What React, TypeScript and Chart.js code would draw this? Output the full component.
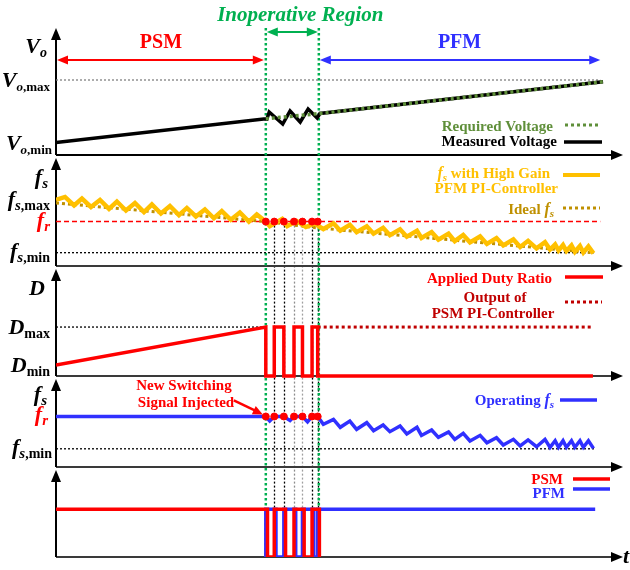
import React, { useEffect, useRef } from 'react';
import { Chart, registerables } from 'chart.js';

Chart.register(...registerables);

// ---------------- time axis (arbitrary units) ----------------
const T_MIN = 0;
const T_MAX = 100;
const inoperativeRegion = [37.2, 46.6];
const switchTimes = [37.2, 38.7, 40.4, 42.2, 43.7, 45.4, 46.4];
const switchLineShades = ['#000000', '#000000', '#8c8c8c', '#a0a0a0', '#000000', '#000000'];
const refLineEnd = 96.5;
const fsMinLineEnd = 95.5;

// ---------------- panel 1 : output voltage ----------------
const voMax = 6.0;
const voMin = 1.0;
const measuredT = [0, 37.2, 37.4, 37.8, 40.2, 41.5, 43.3, 44.7, 46.3, 46.8, 97.0];
const measuredV = [1.0, 2.9, 2.88, 3.44, 2.48, 3.52, 2.64, 3.68, 2.96, 3.32, 5.86];
const requiredT = [37.2, 46.8, 97.0];
const requiredV = [2.9, 3.32, 5.86];

// ---------------- panel 2 : fs with high gain PFM PI ----------------
const fsMax = 5.85;
const fr2 = 4.0;
const fsMin2 = 1.2;
const highGainT = [
  0, 1.6, 3.2, 4.6, 6.2, 7.8, 9.4, 10.8, 12.4, 14.0, 15.6, 17.0, 18.6, 20.2, 21.8, 23.2, 24.8, 26.4,
  28.0, 29.4, 31.0, 32.6, 34.2, 35.6, 37.2, 37.9, 40.1, 41.0, 42.7, 44.3, 46.1, 46.5, 47.4, 49.2,
  50.4, 52.1, 53.3, 55.1, 56.3, 58.0, 59.2, 61.0, 62.2, 64.0, 64.8, 66.6, 67.8, 69.6, 70.7, 72.2,
  73.4, 75.2, 76.4, 78.1, 79.3, 81.1, 82.3, 83.7, 85.2, 86.7, 87.6, 88.5, 89.1, 89.9, 90.5, 91.4,
  92.0, 92.9, 93.5, 94.4, 95.3,
];
const highGainV = [
  5.95, 6.22, 5.45, 6.08, 5.32, 5.95, 5.14, 5.81, 5.0, 5.68, 4.86, 5.54, 4.73, 5.41, 4.59, 5.23, 4.46, 5.09,
  4.3, 4.95, 4.16, 4.82, 4.0, 4.64, 4.0, 3.6, 4.23, 3.6, 4.05, 3.51, 3.87, 3.6, 3.33, 3.85,
  3.18, 3.71, 3.05, 3.58, 2.91, 3.44, 2.77, 3.31, 2.64, 3.17, 2.52, 3.05, 2.38, 2.91, 2.24, 2.79,
  2.13, 2.66, 1.99, 2.52, 1.86, 2.39, 1.72, 2.27, 1.59, 2.14, 1.48, 1.94, 1.4, 1.89, 1.35, 1.85,
  1.28, 1.8, 1.22, 1.76, 1.14,
];
const idealT = [0, 37.2, 46.6, 95.3];
const idealV = [5.68, 4.0, 3.42, 1.2];

// ---------------- panel 3 : duty ratio ----------------
const dMax = 4.45;
const dMin = 1.0;
const dutyEnd = 95.2;

// ---------------- panel 4 : operating fs ----------------
const fr4 = 5.55;
const fsMin4 = 2.0;
const operatingT = [
  0, 37.2, 37.9, 38.7, 40.4, 41.5, 42.2, 43.7, 44.6, 45.4, 46.4, 47.4, 49.2, 50.4, 52.1, 53.3, 55.1,
  56.3, 58.0, 59.2, 61.0, 62.2, 64.0, 64.8, 66.6, 67.8, 69.6, 70.7, 72.2, 73.4, 75.2, 76.4, 78.1,
  79.3, 81.1, 82.3, 83.7, 85.2, 86.7, 87.6, 88.5, 89.1, 89.9, 90.5, 91.4, 92.0, 92.9, 93.5, 94.4, 95.3,
];
const operatingV = [
  5.55, 5.55, 5.05, 5.55, 5.55, 5.1, 5.55, 5.55, 4.95, 5.55, 5.55, 4.69, 5.24, 4.36, 5.05, 4.14, 4.87,
  3.99, 4.62, 3.88, 4.51, 3.63, 4.36, 3.47, 4.07, 3.26, 3.85, 3.04, 3.7, 2.86, 3.48, 2.67, 3.22,
  2.42, 3.04, 2.31, 2.97, 2.23, 3.04, 2.16, 2.89, 2.16, 2.89, 2.16, 2.89, 2.16, 2.89, 2.16, 2.89, 2.05,
];

// ---------------- panel 5 : mode signals ----------------
const modeHigh = 5.3;
const modeEnd = 95.6;
const fallingEdgeLag = 0.3;

// ---------------- layout (not data) ----------------
const panelWeights = [125, 111, 110, 91, 90];
const PANEL_SPAN = 10;
const panelIds = ['p1', 'p2', 'p3', 'p4', 'p5'];

const SERIF = '"Liberation Serif", "Times New Roman", serif';
const F = (style: string, size: number) => `${style} ${size}px ${SERIF}`;

const RED = '#ff0000';
const DARKRED = '#c00000';
const BLUE = '#3030ff';
const GOLD = '#ffc000';
const DARKGOLD = '#bf9000';
const GREEN = '#00b050';
const OLIVE = '#5f8f3a';

const xy = (ts: number[], vs: number[]) => ts.map((t, i) => ({ x: t, y: vs[i] }));

function panelRange(k: number) {
  const sum = (a: number[]) => a.reduce((s, v) => s + v, 0);
  const w = panelWeights[k];
  const above = sum(panelWeights.slice(0, k));
  const below = sum(panelWeights.slice(k + 1));
  return { min: (-PANEL_SPAN * below) / w, max: PANEL_SPAN + (PANEL_SPAN * above) / w };
}

// builds a piecewise-constant signal from the switching instants
function wave(levelOf: (interval: number) => number, lag = 0) {
  const pts: { x: number; y: number }[] = [];
  for (let k = 0; k < switchTimes.length; k++) {
    const before = levelOf(k - 1);
    const after = levelOf(k);
    const t = switchTimes[k] + (after < before ? lag : 0);
    pts.push({ x: t, y: before });
    pts.push({ x: t, y: after });
  }
  return pts;
}
const psmActive = (i: number) => i < 0 || (i < switchTimes.length - 1 && i % 2 === 1);

const dutyPts = [
  { x: T_MIN, y: dMin },
  ...wave((i) => (i < 0 ? dMax : psmActive(i) ? dMax : 0)),
  { x: dutyEnd, y: 0 },
];
const psmModePts = [{ x: T_MIN, y: modeHigh }, ...wave((i) => (psmActive(i) ? modeHigh : 0), fallingEdgeLag)];
const pfmModePts = [
  ...wave((i) => (i < 0 ? 0 : psmActive(i) ? 0 : modeHigh), fallingEdgeLag),
  { x: modeEnd, y: modeHigh },
];

type Part = { text: string; font: string; color: string; dy?: number };
function drawRich(ctx: CanvasRenderingContext2D, parts: Part[], x: number, y: number, align: string) {
  let total = 0;
  for (const p of parts) {
    ctx.font = p.font;
    total += ctx.measureText(p.text).width;
  }
  let cx = align === 'right' ? x - total : align === 'center' ? x - total / 2 : x;
  ctx.textAlign = 'left';
  ctx.textBaseline = 'alphabetic';
  for (const p of parts) {
    ctx.font = p.font;
    ctx.fillStyle = p.color;
    ctx.fillText(p.text, cx, y + (p.dy || 0));
    cx += ctx.measureText(p.text).width;
  }
}

function arrowHead(ctx: CanvasRenderingContext2D, tx: number, ty: number, ang: number, color: string, len = 10, half = 4.5) {
  ctx.save();
  ctx.fillStyle = color;
  ctx.beginPath();
  ctx.moveTo(tx, ty);
  ctx.lineTo(tx - len * Math.cos(ang) + half * Math.sin(ang), ty - len * Math.sin(ang) - half * Math.cos(ang));
  ctx.lineTo(tx - len * Math.cos(ang) - half * Math.sin(ang), ty - len * Math.sin(ang) + half * Math.cos(ang));
  ctx.closePath();
  ctx.fill();
  ctx.restore();
}

function line(ctx: CanvasRenderingContext2D, x1: number, y1: number, x2: number, y2: number, color: string, width: number, dash: number[] = []) {
  ctx.save();
  ctx.strokeStyle = color;
  ctx.lineWidth = width;
  ctx.setLineDash(dash);
  ctx.beginPath();
  ctx.moveTo(x1, y1);
  ctx.lineTo(x2, y2);
  ctx.stroke();
  ctx.restore();
}

function doubleArrow(ctx: CanvasRenderingContext2D, x1: number, x2: number, y: number, color: string) {
  line(ctx, x1 + 6, y, x2 - 6, y, color, 2);
  arrowHead(ctx, x1, y, Math.PI, color, 11, 4.5);
  arrowHead(ctx, x2, y, 0, color, 11, 4.5);
}

const decor = {
  id: 'decor',
  beforeDatasetsDraw(chart: any) {
    const { ctx, chartArea, scales } = chart;
    const xs = scales.x;
    const P = panelIds.map((id) => scales[id]);
    const bottom = P[4].getPixelForValue(0);

    // dotted switching instants
    const yTop = P[1].getPixelForValue(fr2);
    switchTimes.slice(1).forEach((t, i) => {
      const px = Math.round(xs.getPixelForValue(t)) + 0.5;
      line(ctx, px, yTop, px, bottom, switchLineShades[i], 1.3, [2, 2]);
    });

    // axes
    for (let k = 0; k < 5; k++) {
      const base = P[k].getPixelForValue(0);
      const axisColor = k === 0 ? '#000000' : '#3a3a3a';
      line(ctx, chartArea.left, base, chartArea.right - 6, base, axisColor, 2);
      arrowHead(ctx, chartArea.right + 3, base, 0, '#000000', 12, 5);
      const tip = k === 0 ? chartArea.top - 2 : P[k - 1].getPixelForValue(0) + 3;
      line(ctx, chartArea.left, base, chartArea.left, tip + 8, '#000000', 2);
      arrowHead(ctx, chartArea.left, tip, -Math.PI / 2, '#000000', 12, 5);
    }

    // inoperative region bounds
    inoperativeRegion.forEach((t) => {
      const px = xs.getPixelForValue(t);
      line(ctx, px, chartArea.top - 2, px, bottom, GREEN, 2.5, [2.5, 2.5]);
    });
  },
  afterDatasetsDraw(chart: any) {
    const { ctx, chartArea, scales } = chart;
    const xs = scales.x;
    const P = panelIds.map((id) => scales[id]);
    const X = (t: number) => xs.getPixelForValue(t);

    // ---- region annotations ----
    const yArrow = P[0].getPixelForValue(7.6);
    const x0 = X(inoperativeRegion[0]);
    const x1 = X(inoperativeRegion[1]);
    doubleArrow(ctx, chartArea.left + 1, x0 - 2, yArrow, RED);
    doubleArrow(ctx, x1 + 1, X(refLineEnd), yArrow, BLUE);
    doubleArrow(ctx, x0 + 1, x1 - 1, P[0].getPixelForValue(9.84), GREEN);
    ctx.textAlign = 'center';
    ctx.textBaseline = 'alphabetic';
    ctx.font = F('bold', 20);
    ctx.fillStyle = RED;
    ctx.fillText('PSM', (chartArea.left + x0) / 2, 48);
    ctx.fillStyle = BLUE;
    ctx.fillText('PFM', (x1 + X(refLineEnd)) / 2, 48);
    ctx.font = F('italic bold', 21);
    ctx.fillStyle = GREEN;
    ctx.fillText('Inoperative Region', (x0 + x1) / 2 + 8, 21);

    // ---- y-axis labels ----
    const BI = (s: number) => F('italic bold', s);
    const B = (s: number) => F('bold', s);
    const cap = (k: number, v: number) => P[k].getPixelForValue(v) + 7;
    const fy = (k: number, v: number) => P[k].getPixelForValue(v) + 5;
    const K = '#000000';
    drawRich(ctx, [{ text: 'V', font: BI(22), color: K }, { text: 'o', font: BI(14), color: K, dy: 4 }], 47, cap(0, 8.7), 'right');
    drawRich(ctx, [{ text: 'V', font: BI(22), color: K }, { text: 'o', font: BI(13), color: K, dy: 4 }, { text: ',max', font: B(13), color: K, dy: 4 }], 50, cap(0, voMax), 'right');
    drawRich(ctx, [{ text: 'V', font: BI(22), color: K }, { text: 'o', font: BI(13), color: K, dy: 4 }, { text: ',min', font: B(13), color: K, dy: 4 }], 52, cap(0, voMin), 'right');

    const fLabel = (k: number, v: number, sub: string, rest: string, color: string, right: number) =>
      drawRich(ctx, [
        { text: 'f', font: BI(22), color },
        { text: sub, font: BI(15), color, dy: 4 },
        { text: rest, font: B(14), color, dy: 4 },
      ], right, fy(k, v), 'right');
    fLabel(1, 7.84, 's', '', K, 48);
    fLabel(1, fsMax, 's', ',max', K, 50);
    fLabel(1, fr2, 'r', '', RED, 50);
    fLabel(1, fsMin2, 's', ',min', K, 50);
    fLabel(3, 7.8, 's', '', K, 47);
    fLabel(3, fr4, 'r', '', RED, 48);
    fLabel(3, fsMin4, 's', ',min', K, 52);

    drawRich(ctx, [{ text: 'D', font: BI(22), color: K }], 45, cap(2, 8.0), 'right');
    drawRich(ctx, [{ text: 'D', font: BI(22), color: K }, { text: 'max', font: B(14), color: K, dy: 4 }], 50, cap(2, dMax), 'right');
    drawRich(ctx, [{ text: 'D', font: BI(22), color: K }, { text: 'min', font: B(14), color: K, dy: 4 }], 50, cap(2, dMin), 'right');

    drawRich(ctx, [{ text: 't', font: BI(22), color: K }], chartArea.right + 3, P[4].getPixelForValue(0) + 6, 'left');

    // ---- legends ----
    const L = (s: string, color: string) => ({ text: s, font: B(15), color });
    drawRich(ctx, [L('Required Voltage', OLIVE)], 553, 131, 'right');
    line(ctx, 565, 125, 601, 125, OLIVE, 3, [3, 3]);
    drawRich(ctx, [L('Measured Voltage', K)], 557, 146, 'right');
    line(ctx, 564, 142, 602, 142, K, 3.5);

    drawRich(ctx, [
      { text: 'f', font: BI(16), color: GOLD },
      { text: 's', font: BI(11), color: GOLD, dy: 3 },
      L(' with High Gain', GOLD),
    ], 550, 178, 'right');
    drawRich(ctx, [L('PFM PI-Controller', GOLD)], 558, 193, 'right');
    line(ctx, 563, 175, 600, 175, GOLD, 4);
    drawRich(ctx, [
      L('Ideal ', DARKGOLD),
      { text: 'f', font: BI(16), color: DARKGOLD },
      { text: 's', font: BI(11), color: DARKGOLD, dy: 3 },
    ], 554, 214, 'right');
    line(ctx, 563, 208, 600, 208, DARKGOLD, 3, [3, 3]);

    drawRich(ctx, [L('Applied Duty Ratio', RED)], 552, 283, 'right');
    line(ctx, 565, 277, 603, 277, RED, 3.5);
    drawRich(ctx, [L('Output of', DARKRED)], 495, 302, 'center');
    drawRich(ctx, [L('PSM PI-Controller', DARKRED)], 493, 318, 'center');
    line(ctx, 565, 302, 602, 302, DARKRED, 3, [3, 3]);

    drawRich(ctx, [
      L('Operating ', BLUE),
      { text: 'f', font: BI(16), color: BLUE },
      { text: 's', font: BI(11), color: BLUE, dy: 3 },
    ], 554, 405, 'right');
    line(ctx, 560, 400, 597, 400, BLUE, 3.5);

    drawRich(ctx, [L('PSM', RED)], 563, 484, 'right');
    line(ctx, 573, 479, 610, 479, RED, 3.5);
    drawRich(ctx, [L('PFM', BLUE)], 565, 498, 'right');
    line(ctx, 573, 489, 610, 489, BLUE, 3.5);

    // ---- injection annotation ----
    drawRich(ctx, [L('New Switching', RED)], 184, 390, 'center');
    drawRich(ctx, [L('Signal Injected', RED)], 186, 407, 'center');
    const tx = X(switchTimes[0]) - 3;
    const ty = P[3].getPixelForValue(fr4) - 2;
    line(ctx, tx - 29, ty - 14, tx - 6, ty - 3, RED, 2.5);
    arrowHead(ctx, tx, ty, Math.atan2(14, 29), RED, 10, 4.5);
  },
};

export default function App() {
  const ref = useRef<HTMLCanvasElement | null>(null);
  useEffect(() => {
    document.body.style.margin = '0';
    const base = { pointRadius: 0, tension: 0, fill: false, xAxisID: 'x' };
    const dots = (vs: number, yAxisID: string) => ({
      ...base,
      yAxisID,
      data: switchTimes.map((t) => ({ x: t, y: vs })),
      showLine: false,
      pointRadius: 3.5,
      pointBackgroundColor: RED,
      pointBorderColor: RED,
      order: 0,
    });
    const scales: any = {
      x: { type: 'linear', min: T_MIN, max: T_MAX, display: false, bounds: 'data' },
    };
    panelIds.forEach((id, k) => {
      scales[id] = { type: 'linear', display: false, bounds: 'data', ...panelRange(k) };
    });
    const chart = new Chart(ref.current as HTMLCanvasElement, {
      type: 'line',
      data: {
        datasets: [
          // panel 1
          { ...base, yAxisID: 'p1', data: [{ x: T_MIN, y: voMax }, { x: refLineEnd, y: voMax }], borderColor: '#808080', borderWidth: 1.3, borderDash: [2, 2], order: 10 },
          { ...base, yAxisID: 'p1', data: xy(measuredT, measuredV), borderColor: '#000000', borderWidth: 3.5, order: 5 },
          { ...base, yAxisID: 'p1', data: xy(requiredT, requiredV), borderColor: OLIVE, borderWidth: 3.5, borderDash: [3, 3], order: 2 },
          // panel 2
          { ...base, yAxisID: 'p2', data: [{ x: T_MIN, y: fr2 }, { x: refLineEnd, y: fr2 }], borderColor: RED, borderWidth: 1.5, borderDash: [5, 3], order: 10 },
          { ...base, yAxisID: 'p2', data: [{ x: T_MIN, y: fsMin2 }, { x: fsMinLineEnd, y: fsMin2 }], borderColor: '#000000', borderWidth: 1.3, borderDash: [2, 2], order: 10 },
          { ...base, yAxisID: 'p2', data: xy(idealT, idealV), borderColor: DARKGOLD, borderWidth: 3, borderDash: [3, 3], order: 6 },
          { ...base, yAxisID: 'p2', data: xy(highGainT, highGainV), borderColor: GOLD, borderWidth: 4.5, order: 5 },
          dots(fr2, 'p2'),
          // panel 3
          { ...base, yAxisID: 'p3', data: [{ x: T_MIN, y: dMax }, { x: inoperativeRegion[0], y: dMax }], borderColor: '#000000', borderWidth: 1.3, borderDash: [2, 2], order: 10 },
          { ...base, yAxisID: 'p3', data: [{ x: switchTimes[switchTimes.length - 1], y: dMax }, { x: dutyEnd, y: dMax }], borderColor: DARKRED, borderWidth: 3, borderDash: [3, 3], order: 5 },
          { ...base, yAxisID: 'p3', data: dutyPts, borderColor: RED, borderWidth: 3.5, order: 4 },
          // panel 4
          { ...base, yAxisID: 'p4', data: [{ x: T_MIN, y: fsMin4 }, { x: fsMinLineEnd, y: fsMin4 }], borderColor: '#000000', borderWidth: 1.3, borderDash: [2, 2], order: 10 },
          { ...base, yAxisID: 'p4', data: xy(operatingT, operatingV), borderColor: BLUE, borderWidth: 3.5, order: 5 },
          dots(fr4, 'p4'),
          // panel 5
          { ...base, yAxisID: 'p5', data: pfmModePts, borderColor: BLUE, borderWidth: 3.5, order: 5 },
          { ...base, yAxisID: 'p5', data: psmModePts, borderColor: RED, borderWidth: 3.5, order: 4 },
        ] as any,
      },
      options: {
        animation: false,
        responsive: false,
        parsing: false as any,
        layout: { padding: { left: 56, right: 10, top: 30, bottom: 13 } },
        plugins: { legend: { display: false }, tooltip: { enabled: false }, title: { display: false } },
        events: [],
        scales,
      } as any,
      plugins: [decor],
    });
    return () => chart.destroy();
  }, []);
  return <canvas ref={ref} width={630} height={570} style={{ display: 'block', width: 630, height: 570 }} />;
}
